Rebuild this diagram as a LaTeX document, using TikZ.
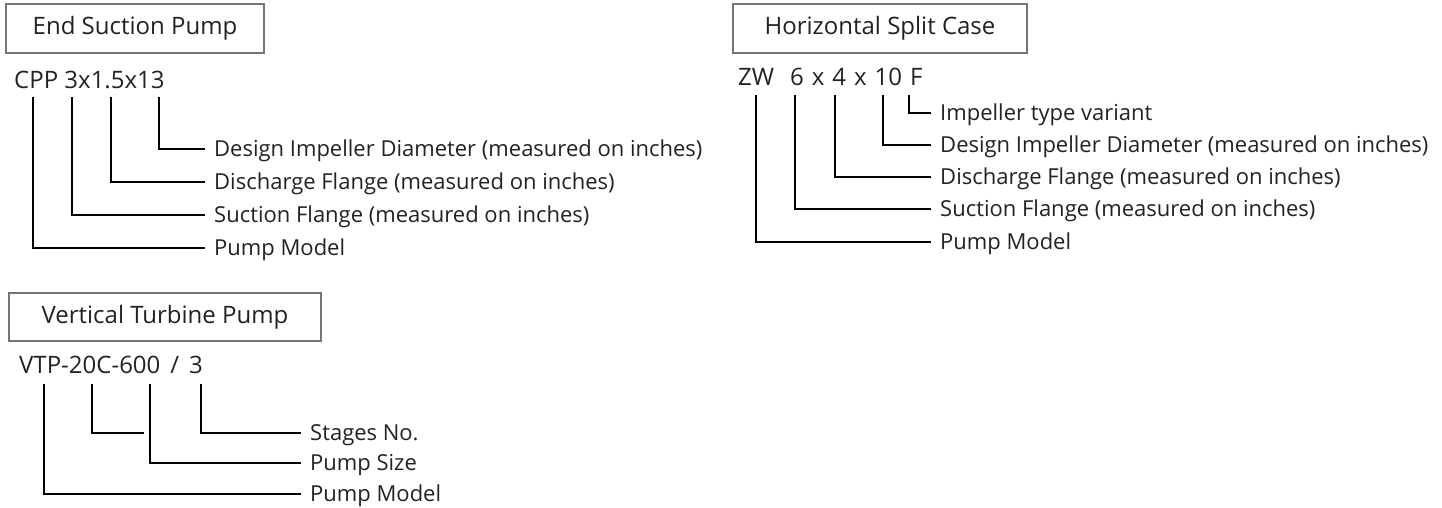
\documentclass[tikz,border=0pt]{standalone}
\usepackage{fontspec}
\setmainfont{Open Sans}
\definecolor{txt}{HTML}{222222}
\definecolor{boxc}{HTML}{767676}
\begin{document}
\begin{tikzpicture}[x=1pt,y=-1pt,
  conn/.style={line width=2.7pt, black, shorten >=9pt},
  bare/.style={line width=2.7pt, black},
  titlebox/.style={draw=boxc, line width=2pt, text=txt, inner sep=0pt,
    font=\fontsize{24}{28}\selectfont},
  code/.style={anchor=base west, inner sep=0pt, text=txt,
    font=\fontsize{24}{28}\selectfont},
  lab/.style={anchor=west, inner sep=0pt, text=txt, text height=15.7pt, text depth=0pt,
    font=\fontsize{22}{26}\selectfont}]
\useasboundingbox (0,0) rectangle (1442,508);

% ---------- End Suction Pump ----------
\node[titlebox, minimum width=258pt, minimum height=49pt] (t1) at (135,28.5) {End Suction Pump};
\node[code] (k1) at (14,89) {CPP 3x1.5x13};
\node[lab] (a1) at (214,149) {Design Impeller Diameter (measured on inches)};
\node[lab] (a2) at (214,182) {Discharge Flange (measured on inches)};
\node[lab] (a3) at (214,215) {Suction Flange (measured on inches)};
\node[lab] (a4) at (214,248) {Pump Model};
\coordinate (p1) at (159,97);
\coordinate (p2) at (111,97);
\coordinate (p3) at (72,97);
\coordinate (p4) at (33,97);
\draw[conn] (p1) |- (a1.west);
\draw[conn] (p2) |- (a2.west);
\draw[conn] (p3) |- (a3.west);
\draw[conn] (p4) |- (a4.west);

% ---------- Horizontal Split Case ----------
\node[titlebox, minimum width=294pt, minimum height=49pt] (t2) at (880,28.5) {Horizontal Split Case};
\node[code] (k2) at (738,86) {\spaceskip=8pt ZW\ \ 6 x 4 x 10 F};
\node[lab] (b1) at (940,113) {Impeller type variant};
\node[lab] (b2) at (940,145) {Design Impeller Diameter (measured on inches)};
\node[lab] (b3) at (940,177) {Discharge Flange (measured on inches)};
\node[lab] (b4) at (940,209) {Suction Flange (measured on inches)};
\node[lab] (b5) at (940,242) {Pump Model};
\coordinate (q1) at (909,95);
\coordinate (q2) at (883,95);
\coordinate (q3) at (835,95);
\coordinate (q4) at (795,95);
\coordinate (q5) at (756,95);
\draw[conn] (q1) |- (b1.west);
\draw[conn] (q2) |- (b2.west);
\draw[conn] (q3) |- (b3.west);
\draw[conn] (q4) |- (b4.west);
\draw[conn] (q5) |- (b5.west);

% ---------- Vertical Turbine Pump ----------
\node[titlebox, minimum width=312pt, minimum height=48pt] (t3) at (165,317) {Vertical Turbine Pump};
\node[code] (k3) at (19,373) {\spaceskip=10pt VTP-20C-600 / 3};
\node[lab] (c1) at (310,433) {Stages No.};
\node[lab] (c2) at (310,463) {Pump Size};
\node[lab] (c3) at (310,494) {Pump Model};
\coordinate (r1) at (201,384);
\coordinate (r2) at (150,384);
\coordinate (r3) at (44,384);
\coordinate (r4) at (92,384);
\coordinate (r4e) at (144,433);
\draw[conn] (r1) |- (c1.west);
\draw[conn] (r2) |- (c2.west);
\draw[conn] (r3) |- (c3.west);
\draw[bare] (r4) |- (r4e);
\end{tikzpicture}
\end{document}
